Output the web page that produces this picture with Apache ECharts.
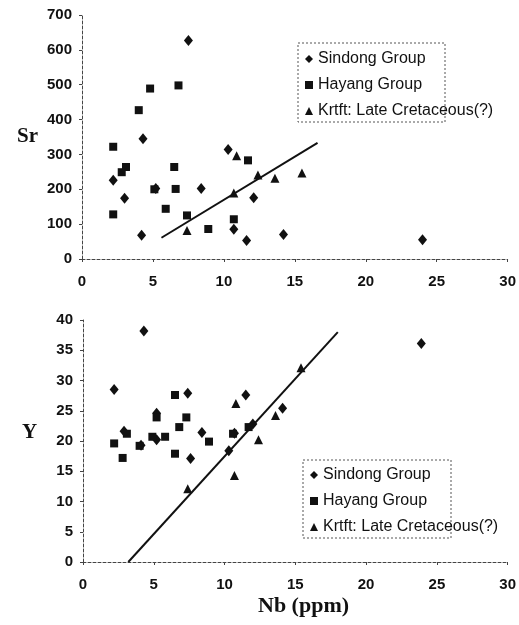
<!DOCTYPE html>
<html>
<head>
<meta charset="utf-8">
<script src="https://cdn.jsdelivr.net/npm/echarts@6/dist/echarts.min.js"></script>
<style>
  html, body { margin: 0; padding: 0; background: #fff; }
  #chart { width: 519px; height: 625px; }
</style>
</head>
<body>
<div id="chart"></div>
<script>
// [Nb, Sr] 上圖
const sindongSr = [[7.5, 627], [4.3, 345], [2.2, 226], [3.0, 174], [4.2, 68], [5.2, 202],
  [8.4, 202], [10.3, 314], [10.7, 85], [12.1, 176], [11.6, 53], [14.2, 70], [24.0, 55]];
const hayangSr = [[2.2, 322], [2.2, 128], [2.8, 249], [3.1, 264], [4.0, 427], [4.8, 489],
  [6.8, 498], [6.5, 264], [6.6, 201], [5.1, 200], [5.9, 144], [7.4, 125], [8.9, 86],
  [11.7, 283], [10.7, 114]];
const krtftSr = [[10.9, 296], [12.4, 241], [13.6, 232], [15.5, 247], [10.7, 189], [7.4, 82]];
const trendSr = [[5.6, 61], [16.6, 333]];

// [Nb, Y] 下圖
const sindongY = [[4.3, 38.2], [2.2, 28.5], [7.4, 27.9], [11.5, 27.6], [2.9, 21.6], [5.2, 24.6],
  [4.1, 19.3], [5.2, 20.2], [8.4, 21.4], [7.6, 17.1], [10.3, 18.4], [10.7, 21.3],
  [12.0, 22.8], [14.1, 25.4], [23.9, 36.1]];
const hayangY = [[2.2, 19.6], [2.8, 17.2], [4.0, 19.2], [4.9, 20.7], [5.2, 23.9], [5.8, 20.7],
  [6.5, 27.6], [6.8, 22.3], [7.3, 23.9], [6.5, 17.9], [8.9, 19.9], [10.6, 21.2],
  [11.7, 22.3], [3.1, 21.2]];
const krtftY = [[10.8, 26.2], [15.4, 32.1], [13.6, 24.2], [12.4, 20.2], [10.7, 14.3], [7.4, 12.1]];
const trendY = [[3.2, 0], [18.0, 38]];

const groupNames = ['Sindong Group', 'Hayang Group', 'Krtft: Late Cretaceous(?)'];

const chart = echarts.init(document.getElementById('chart'));

const axisLine = { lineStyle: { color: '#444', width: 1, type: [3, 2] } };
const labelFont = { fontFamily: 'Liberation Sans', fontWeight: 'bold', fontSize: 15, color: '#111' };

const xAxisBase = (gridIndex) => ({
  type: 'value', gridIndex, min: 0, max: 30, interval: 5,
  axisLine, splitLine: { show: false },
  axisTick: { show: true, length: 3, lineStyle: { color: '#444' } },
  axisLabel: { ...labelFont, margin: 15 },
});
const yAxisBase = (gridIndex, max, interval) => ({
  type: 'value', gridIndex, min: 0, max, interval,
  axisLine, splitLine: { show: false },
  axisTick: { show: true, length: 3, lineStyle: { color: '#444' } },
  axisLabel: { ...labelFont, margin: 10 },
});

const scatter = (name, data, symbol, size, idx) => ({
  name, type: 'scatter', data, symbol, symbolSize: size,
  xAxisIndex: idx, yAxisIndex: idx,
  itemStyle: { color: '#111', opacity: 1 },
});
const trend = (data, idx) => ({
  type: 'line', data, xAxisIndex: idx, yAxisIndex: idx, symbol: 'none', silent: true,
  lineStyle: { color: '#111', width: 2 },
});

const legendBase = {
  orient: 'vertical', itemWidth: 8, itemHeight: 8, itemGap: 10,
  selectedMode: false,
  textStyle: { fontFamily: 'Liberation Sans', fontSize: 16, color: '#111', lineHeight: 16 },
  data: [
    { name: groupNames[0], icon: 'diamond' },
    { name: groupNames[1], icon: 'rect' },
    { name: groupNames[2], icon: 'triangle' },
  ],
};

const option = {
  animation: false,
  backgroundColor: '#fff',
  grid: [
    { left: 82, right: 9, top: 15, height: 244 },
    { left: 83, right: 8, top: 320, height: 242 },
  ],
  xAxis: [xAxisBase(0), xAxisBase(1)],
  yAxis: [yAxisBase(0, 700, 100), yAxisBase(1, 40, 5)],
  legend: [
    { ...legendBase, left: 300, top: 46 },
    { ...legendBase, left: 305, top: 462 },
  ],
  graphic: [
    { type: 'rect', shape: { x: 298, y: 43, width: 147, height: 79 },
      style: { fill: 'none', stroke: '#555', lineWidth: 1, lineDash: [2, 2] } },
    { type: 'rect', shape: { x: 303, y: 460, width: 148, height: 78 },
      style: { fill: 'none', stroke: '#555', lineWidth: 1, lineDash: [2, 2] } },
    { type: 'text', left: 17, top: 126,
      style: { text: 'Sr', font: 'bold 21px "Liberation Serif"', fill: '#111' } },
    { type: 'text', left: 22, top: 422,
      style: { text: 'Y', font: 'bold 21px "Liberation Serif"', fill: '#111' } },
    { type: 'text', left: 258, top: 595,
      style: { text: 'Nb (ppm)', font: 'bold 22px "Liberation Serif"', fill: '#111' } },
  ],
  series: [
    scatter(groupNames[0], sindongSr, 'diamond', [9, 11], 0),
    scatter(groupNames[1], hayangSr, 'rect', 8, 0),
    scatter(groupNames[2], krtftSr, 'triangle', 9, 0),
    trend(trendSr, 0),
    scatter(groupNames[0], sindongY, 'diamond', [9, 11], 1),
    scatter(groupNames[1], hayangY, 'rect', 8, 1),
    scatter(groupNames[2], krtftY, 'triangle', 9, 1),
    trend(trendY, 1),
  ],
};

chart.setOption(option);
</script>
</body>
</html>
